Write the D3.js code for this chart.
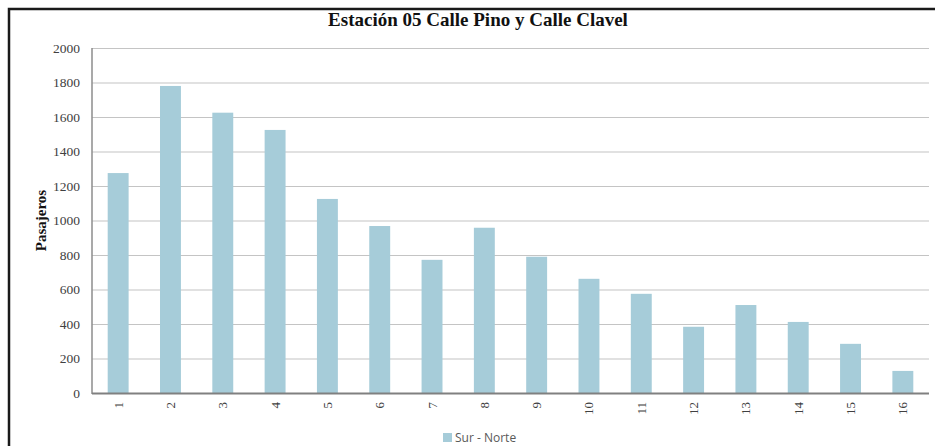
<!DOCTYPE html>
<html><head><meta charset="utf-8">
<script src="https://cdn.jsdelivr.net/npm/d3@7/dist/d3.min.js"></script>
<style>body{margin:0;background:#fff}svg{display:block}</style>
</head><body>
<svg id="c" width="935" height="446"></svg>
<script>
const categories = ["1","2","3","4","5","6","7","8","9","10","11","12","13","14","15","16"];
const values = [1275,1780,1625,1525,1125,968,772,958,790,662,575,384,510,412,285,128];
const yTicks = [0,200,400,600,800,1000,1200,1400,1600,1800,2000];
const title = "Estación 05 Calle Pino y Calle Clavel";
const yTitle = "Pasajeros";
const seriesName = "Sur - Norte";

const svg = d3.select("#c");
const W = 935, H = 446;
const m = {left:92, right:6, top:48, bottom:53};
const x = d3.scaleBand().domain(categories).range([m.left, W-m.right]).paddingInner(0.6).paddingOuter(0.3);
const y = d3.scaleLinear().domain([0,2000]).range([H-m.bottom, m.top]);

// frame
svg.append("path").attr("d", `M9,${H+5} V9 H${W+5}`).attr("fill","none").attr("stroke","#1a1a1a").attr("stroke-width",2.5);

// gridlines
svg.append("g").selectAll("line").data(yTicks.filter(d=>d>0)).join("line")
  .attr("x1", m.left).attr("x2", W-m.right)
  .attr("y1", d=>y(d)+0.5).attr("y2", d=>y(d)+0.5)
  .attr("stroke","#c4c4c4").attr("stroke-width",1.2);

// bars
svg.append("g").selectAll("rect").data(values).join("rect")
  .attr("x", (d,i)=>x(categories[i])).attr("width", x.bandwidth())
  .attr("y", d=>y(d)).attr("height", d=>y(0)-y(d))
  .attr("fill","#a6ccd9");

// axes lines
svg.append("line").attr("x1", m.left).attr("x2", m.left).attr("y1", y(2000)).attr("y2", y(0)+1)
  .attr("stroke","#8c8c8c").attr("stroke-width",1.5);
svg.append("line").attr("x1", m.left).attr("x2", W-m.right).attr("y1", y(0)+0.5).attr("y2", y(0)+0.5)
  .attr("stroke","#808080").attr("stroke-width",2);

// y tick labels
const yAxis = d3.axisLeft(y).tickValues(yTicks).tickSize(0).tickPadding(12).tickFormat(d3.format("d"));
const gy = svg.append("g").attr("transform",`translate(${m.left},0)`).call(yAxis);
gy.select(".domain").remove();
gy.selectAll("text").attr("font-family","'Liberation Serif', 'Times New Roman', serif").attr("font-size",13.5).attr("fill","#404040");

// x tick labels
const gx = svg.append("g");
gx.selectAll("text").data(categories).join("text")
  .attr("transform", d=>`translate(${x(d)+x.bandwidth()/2+4.5},${y(0)+9}) rotate(-90)`)
  .attr("text-anchor","end")
  .attr("font-family","'Liberation Serif', 'Times New Roman', serif").attr("font-size",13).attr("fill","#404040")
  .text(d=>d);

// title
svg.append("text").attr("x",478).attr("y",26).attr("text-anchor","middle")
  .attr("font-family","'Liberation Serif', 'Times New Roman', serif").attr("font-weight","bold").attr("font-size",19)
  .attr("fill","#111").text(title);

// y title
svg.append("text").attr("transform",`translate(46,${(y(0)+y(2000))/2}) rotate(-90)`).attr("text-anchor","middle")
  .attr("font-family","'Liberation Serif', 'Times New Roman', serif").attr("font-weight","bold").attr("font-size",15)
  .attr("fill","#111").text(yTitle);

// legend
const lg = svg.append("g").attr("transform","translate(443,433)");
lg.append("rect").attr("x",0).attr("y",0).attr("width",9).attr("height",9).attr("fill","#a6ccd9");
lg.append("text").attr("x",12).attr("y",9).attr("font-family","'Open Sans', 'Liberation Sans', sans-serif").attr("font-size",12)
  .attr("fill","#595959").text(seriesName);
</script>
</body></html>
